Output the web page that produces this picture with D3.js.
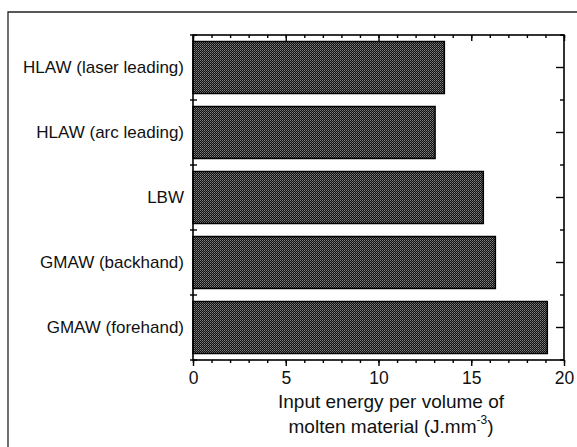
<!DOCTYPE html>
<html>
<head>
<meta charset="utf-8">
<script src="https://cdn.jsdelivr.net/npm/d3@7"></script>
<style>
  body { margin: 0; background: #fff; }
  svg { display: block; font-family: "Liberation Sans", Arial, sans-serif; }
</style>
</head>
<body>
<svg width="577" height="447"></svg>
<script>
// data
const processes = ['HLAW (laser leading)', 'HLAW (arc leading)', 'LBW', 'GMAW (backhand)', 'GMAW (forehand)'];
const energy = [13.55, 13.05, 15.65, 16.3, 19.1];
const xTicks = [0, 5, 10, 15, 20];

const svg = d3.select('svg');
const plotLeft = 193, plotRight = 564, plotTop = 35, plotBottom = 360;

const x = d3.scaleLinear().domain([0, 20]).range([plotLeft, plotRight]);
const y = d3.scaleBand().domain(processes).range([plotTop, plotBottom])
  .paddingInner(0.2).paddingOuter(0.1);

// stipple fill like the scan
const defs = svg.append('defs');
const pat = defs.append('pattern').attr('id', 'dots')
  .attr('width', 2).attr('height', 2).attr('patternUnits', 'userSpaceOnUse');
pat.append('rect').attr('width', 2).attr('height', 2).attr('fill', '#111');
pat.append('rect').attr('width', 1).attr('height', 1).attr('fill', '#808080');
pat.append('rect').attr('x', 1).attr('y', 1).attr('width', 1).attr('height', 1).attr('fill', '#5a5a5a');

// outer frame (top and left only)
svg.append('path').attr('d', 'M8,447V12H577')
  .attr('fill', 'none').attr('stroke', '#222').attr('stroke-width', 1.3);

// bars
svg.append('g').selectAll('rect')
  .data(processes)
  .join('rect')
  .attr('x', x(0))
  .attr('y', d => y(d))
  .attr('width', (d, i) => x(energy[i]) - x(0))
  .attr('height', y.bandwidth())
  .attr('fill', 'url(#dots)')
  .attr('stroke', '#000')
  .attr('stroke-width', 1.5);

// frame of the plot
svg.append('rect').attr('x', plotLeft).attr('y', plotTop)
  .attr('width', plotRight - plotLeft).attr('height', plotBottom - plotTop)
  .attr('fill', 'none').attr('stroke', '#000').attr('stroke-width', 1.6);

function clean(g) {
  g.select('.domain').remove();
  g.selectAll('line').attr('stroke', '#000').attr('stroke-width', 1.4);
}

// bottom axis
svg.append('g').attr('transform', `translate(0,${plotBottom})`)
  .call(d3.axisBottom(x).ticks(20).tickSize(3).tickFormat(''))
  .call(clean);
svg.append('g').attr('transform', `translate(0,${plotBottom})`)
  .call(d3.axisBottom(x).tickValues(xTicks).tickSize(6).tickPadding(6))
  .call(clean)
  .call(g => g.selectAll('text').attr('font-size', 17.5).attr('fill', '#111')
    .attr('font-family', '"Liberation Sans", Arial, sans-serif'));

// top axis, ticks pointing down
svg.append('g').attr('transform', `translate(0,${plotTop})`)
  .call(d3.axisTop(x).ticks(20).tickSize(-3).tickFormat(''))
  .call(clean);
svg.append('g').attr('transform', `translate(0,${plotTop})`)
  .call(d3.axisTop(x).tickValues(xTicks).tickSize(-6).tickFormat(''))
  .call(clean);

// category labels
svg.append('g').attr('transform', `translate(${plotLeft},0)`)
  .call(d3.axisLeft(y).tickSize(0).tickPadding(9))
  .call(g => g.select('.domain').remove())
  .call(g => g.selectAll('text').attr('font-size', 17).attr('fill', '#111')
    .attr('font-family', '"Liberation Sans", Arial, sans-serif'));

// band boundaries for the side ticks
const half = y.step() * y.paddingInner() / 2;
const edges = processes.map(d => y(d) - half).concat([plotBottom]);
edges[0] = plotTop;

svg.append('g').selectAll('line').data(edges).join('line')
  .attr('x1', plotLeft - 3).attr('x2', plotLeft + 4)
  .attr('y1', d => d).attr('y2', d => d)
  .attr('stroke', '#000').attr('stroke-width', 1.4);

svg.append('g').selectAll('line').data(edges).join('line')
  .attr('x1', plotRight - 4).attr('x2', plotRight)
  .attr('y1', d => d).attr('y2', d => d)
  .attr('stroke', '#000').attr('stroke-width', 1.4);

svg.append('g').attr('transform', `translate(${plotRight},0)`)
  .call(d3.axisLeft(y).tickSize(8).tickFormat(''))
  .call(g => g.select('.domain').remove())
  .call(g => g.selectAll('line').attr('x2', -8).attr('stroke', '#000').attr('stroke-width', 1.4));

// axis title
const cx = 391;
svg.append('text').attr('x', cx).attr('y', 408)
  .attr('text-anchor', 'middle').attr('font-size', 19).attr('fill', '#111')
  .text('Input energy per volume of');
const t2 = svg.append('text').attr('x', cx).attr('y', 433)
  .attr('text-anchor', 'middle').attr('font-size', 19).attr('fill', '#111');
t2.append('tspan').text('molten material (J.mm');
t2.append('tspan').attr('font-size', 12).attr('dy', -9).text('-3');
t2.append('tspan').attr('dy', 9).text(')');
</script>
</body>
</html>
